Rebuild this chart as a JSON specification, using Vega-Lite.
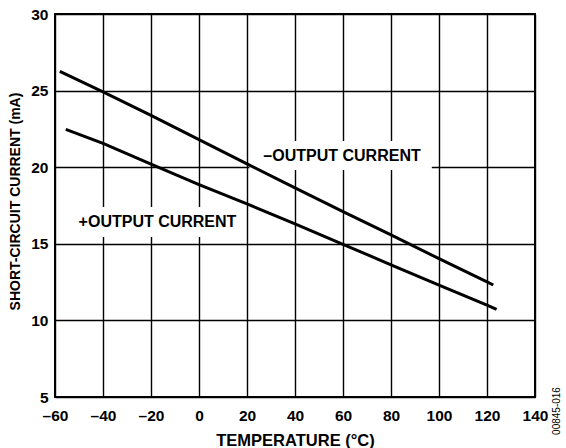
{
  "$schema": "https://vega.github.io/schema/vega-lite/v6.json",
  "autosize": "none",
  "width": 480,
  "height": 383,
  "padding": {"left": 55, "top": 14, "right": 31, "bottom": 51},
  "background": "white",
  "config": {
    "view": {"stroke": "black", "strokeWidth": 2},
    "font": "Liberation Sans",
    "axis": {
      "grid": true,
      "gridColor": "black",
      "gridWidth": 1.4,
      "gridOpacity": 1,
      "domain": false,
      "ticks": false,
      "labelFlush": false,
      "labelOverlap": false,
      "labelFont": "Liberation Sans",
      "labelFontWeight": "bold",
      "labelFontSize": 15.5,
      "labelColor": "black",
      "titleFont": "Liberation Sans",
      "titleFontWeight": "bold",
      "titleColor": "black"
    }
  },
  "datasets": {
    "curves": [
      {"series": "minus", "temp": -58, "current": 26.25},
      {"series": "minus", "temp": -40, "current": 24.92},
      {"series": "minus", "temp": -20, "current": 23.38},
      {"series": "minus", "temp": 0, "current": 21.8},
      {"series": "minus", "temp": 20, "current": 20.22},
      {"series": "minus", "temp": 40, "current": 18.65},
      {"series": "minus", "temp": 60, "current": 17.1},
      {"series": "minus", "temp": 80, "current": 15.58},
      {"series": "minus", "temp": 100, "current": 14.03},
      {"series": "minus", "temp": 120, "current": 12.52},
      {"series": "minus", "temp": 122.6, "current": 12.31},
      {"series": "plus", "temp": -55.5, "current": 22.47},
      {"series": "plus", "temp": -40, "current": 21.55},
      {"series": "plus", "temp": -20, "current": 20.2},
      {"series": "plus", "temp": 0, "current": 18.86},
      {"series": "plus", "temp": 20, "current": 17.6},
      {"series": "plus", "temp": 40, "current": 16.3},
      {"series": "plus", "temp": 60, "current": 14.97},
      {"series": "plus", "temp": 80, "current": 13.63},
      {"series": "plus", "temp": 100, "current": 12.3},
      {"series": "plus", "temp": 120, "current": 11.0},
      {"series": "plus", "temp": 124, "current": 10.72}
    ],
    "labels": [
      {"text": "–OUTPUT CURRENT", "temp": 59.6, "current": 20.75, "x1": 21, "x2": 97, "y1": 19.82, "y2": 21.71},
      {"text": "+OUTPUT CURRENT", "temp": -17.3, "current": 16.45, "x1": -52, "x2": 17, "y1": 15.44, "y2": 17.4}
    ]
  },
  "layer": [
    {
      "data": {"name": "labels"},
      "mark": {"type": "rect", "fill": "white", "stroke": null},
      "encoding": {
        "x": {"field": "x1", "type": "quantitative", "scale": {"domain": [-60, 140], "nice": false},
          "axis": {"values": [-60, -40, -20, 0, 20, 40, 60, 80, 100, 120, 140], "title": "TEMPERATURE (°C)", "titleFontSize": 16.5, "labelPadding": 11, "titlePadding": 9, "labelExpr": "replace(datum.label, '−', '–')"}},
        "x2": {"field": "x2"},
        "y": {"field": "y1", "type": "quantitative", "scale": {"domain": [5, 30], "nice": false},
          "axis": {"values": [5, 10, 15, 20, 25, 30], "title": "SHORT-CIRCUIT CURRENT (mA)", "titleFontSize": 14, "labelPadding": 7, "titlePadding": 8, "titleY": 187}},
        "y2": {"field": "y2"}
      }
    },
    {
      "data": {"name": "curves"},
      "mark": {"type": "line", "color": "black", "strokeWidth": 3},
      "encoding": {
        "x": {"field": "temp", "type": "quantitative"},
        "y": {"field": "current", "type": "quantitative"},
        "detail": {"field": "series"}
      }
    },
    {
      "data": {"name": "labels"},
      "mark": {"type": "text", "font": "Liberation Sans", "fontWeight": "bold", "fontSize": 16, "color": "black", "align": "center", "baseline": "middle"},
      "encoding": {
        "x": {"field": "temp", "type": "quantitative"},
        "y": {"field": "current", "type": "quantitative"},
        "text": {"field": "text"}
      }
    },
    {
      "data": {"values": [{"code": "00845-016"}]},
      "mark": {"type": "text", "font": "Liberation Sans", "fontSize": 10, "color": "black", "angle": 270, "align": "center", "baseline": "middle", "dx": -14, "dy": 22},
      "encoding": {
        "x": {"datum": 140},
        "y": {"datum": 5},
        "text": {"field": "code"}
      }
    }
  ]
}
